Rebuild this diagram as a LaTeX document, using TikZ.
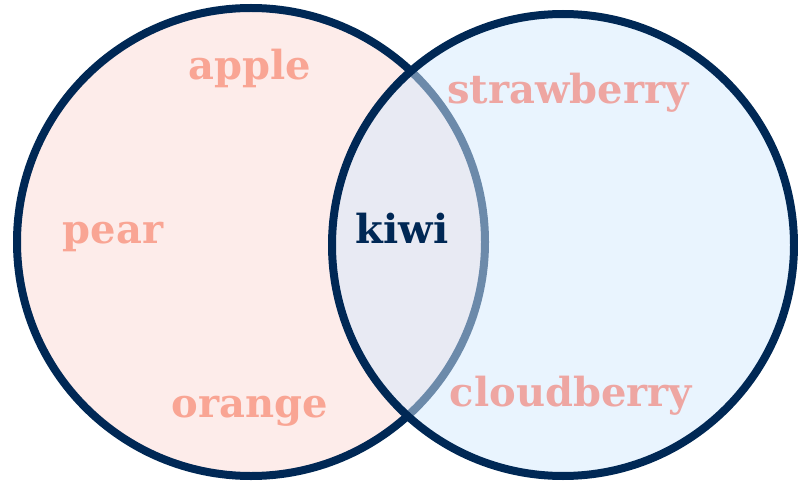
\documentclass[tikz,border=0pt]{standalone}
\usepackage{fontspec}
\setmainfont{DejaVu Serif}
\definecolor{navy}{RGB}{0,40,85}
\definecolor{pinkfill}{RGB}{253,236,234}
\definecolor{bluefill}{RGB}{212,233,253}
\definecolor{salmon}{RGB}{249,165,148}
\definecolor{rosy}{RGB}{238,166,162}
\tikzset{
  ring/.style={line width=8pt, draw=navy},
  fruit/.style={font=\bfseries\fontsize{40}{46}\selectfont, inner sep=0pt, anchor=base},
}
\begin{document}
\begin{tikzpicture}[x=1pt, y=-1pt]
  \useasboundingbox (0,0) rectangle (798,484);
  % left set
  \fill[pinkfill] (251,242) circle (234);
  \draw[ring] (251,242) circle (234);
  % right set, translucent so the left ring shows through faintly
  \fill[bluefill, fill opacity=0.51] (563,245) circle (231);
  \draw[ring] (563,245) circle (231);
  % labels
  \node[fruit, text=salmon] (apple) at (250,80) {apple};
  \node[fruit, text=salmon] (pear) at (113,243) {pear};
  \node[fruit, text=salmon] (orange) at (250,417) {orange};
  \node[fruit, text=rosy] (strawberry) at (568,104) {strawberry};
  \node[fruit, text=rosy] (cloudberry) at (571,406) {cloudberry};
  \node[fruit, text=navy] (kiwi) at (402,243) {kiwi};
\end{tikzpicture}
\end{document}
